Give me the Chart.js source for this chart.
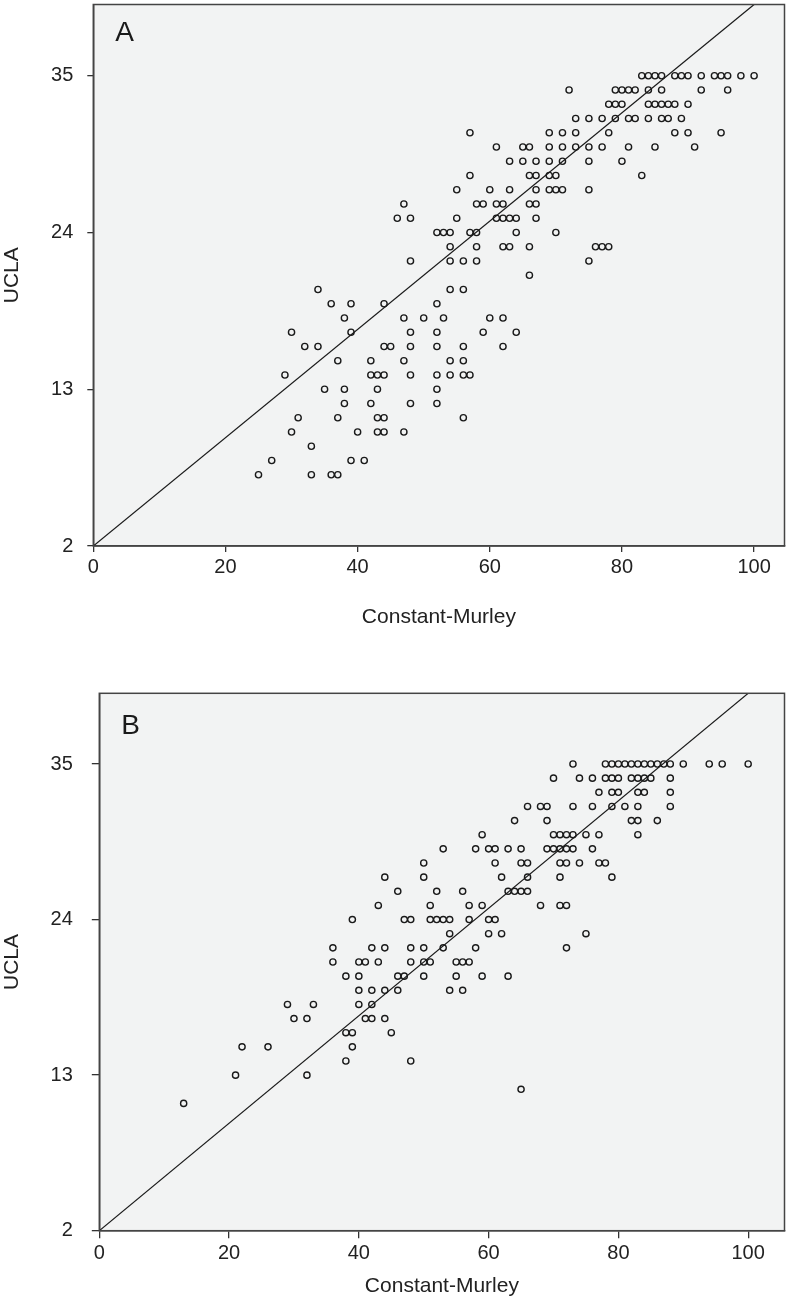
<!DOCTYPE html>
<html>
<head>
<meta charset="utf-8">
<script src="https://cdn.jsdelivr.net/npm/chart.js@4.4.1/dist/chart.umd.min.js"></script>
<style>
  html, body { margin: 0; padding: 0; background: #fff; }
  #wrap { position: relative; width: 789px; height: 1299px; }
  canvas { position: absolute; left: 0; }
  #chartA { top: 0; }
  #chartB { top: 680px; }
</style>
</head>
<body>
<div id="wrap">
  <canvas id="chartA" width="789" height="630"></canvas>
  <canvas id="chartB" width="789" height="619"></canvas>
</div>
<script>
// ========================== DATA ==========================
// UCLA score levels (rows of the scatter), top to bottom
const uclaLevels = [35, 34, 33, 32, 31, 30, 29, 28, 27, 26, 25, 24, 23, 22, 21,
                    20, 19, 18, 17, 16, 15, 14, 13, 12, 11, 10, 9, 8, 7];

// Constant-Murley scores found on each UCLA level, panel A
const cmA = [
  [83, 84, 85, 86, 88, 89, 90, 92, 94, 95, 96, 98, 100],
  [72, 79, 80, 81, 82, 84, 86, 92, 96],
  [78, 79, 80, 84, 85, 86, 87, 88, 90],
  [73, 75, 77, 79, 81, 82, 84, 86, 87, 89],
  [57, 69, 71, 73, 78, 88, 90, 95],
  [61, 65, 66, 69, 71, 73, 75, 77, 81, 85, 91],
  [63, 65, 67, 69, 71, 75, 80],
  [57, 66, 67, 69, 70, 83],
  [55, 60, 63, 67, 69, 70, 71, 75],
  [47, 58, 59, 61, 62, 66, 67],
  [46, 48, 55, 61, 62, 63, 64, 67],
  [52, 53, 54, 57, 58, 64, 70],
  [54, 58, 62, 63, 66, 76, 77, 78],
  [48, 54, 56, 58, 75],
  [66],
  [34, 54, 56],
  [36, 39, 44, 52],
  [38, 47, 50, 53, 60, 62],
  [30, 39, 48, 52, 59, 64],
  [32, 34, 44, 45, 48, 52, 56, 62],
  [37, 42, 47, 54, 56],
  [29, 42, 43, 44, 48, 52, 54, 56, 57],
  [35, 38, 43, 52],
  [38, 42, 48, 52],
  [31, 37, 43, 44, 56],
  [30, 40, 43, 44, 47],
  [33],
  [27, 39, 41],
  [25, 33, 36, 37]
];

// Constant-Murley scores found on each UCLA level, panel B
const cmB = [
  [73, 78, 79, 80, 81, 82, 83, 84, 85, 86, 87, 88, 90, 94, 96, 100],
  [70, 74, 76, 78, 79, 80, 82, 83, 84, 85, 88],
  [77, 79, 80, 83, 84, 88],
  [66, 68, 69, 73, 76, 79, 81, 83, 88],
  [64, 69, 82, 83, 86],
  [59, 70, 71, 72, 73, 75, 77, 83],
  [53, 58, 60, 61, 63, 65, 69, 70, 71, 72, 73, 76],
  [50, 61, 65, 66, 71, 72, 74, 77, 78],
  [44, 50, 62, 66, 71, 79],
  [46, 52, 56, 63, 64, 65, 66],
  [43, 51, 57, 59, 68, 71, 72],
  [39, 47, 48, 51, 52, 53, 54, 57, 60, 61],
  [54, 60, 62, 75],
  [36, 42, 44, 48, 50, 53, 58, 72],
  [36, 40, 41, 43, 48, 50, 51, 55, 56, 57],
  [38, 40, 46, 47, 50, 55, 59, 63],
  [40, 42, 44, 46, 54, 56],
  [29, 33, 40, 42],
  [30, 32, 41, 42, 44],
  [38, 39, 45],
  [22, 26, 39],
  [38, 48],
  [21, 32],
  [65],
  [13],
  [], [], [], []
];

// reference line end points [Constant-Murley, UCLA]
const refLine = [[0, 2], [100, 40]];

// axis ticks
const xTicks = [0, 20, 40, 60, 80, 100];
const yTicks = [2, 13, 24, 35];

// ========================== HELPERS ==========================
function toPoints(rows) {
  const pts = [];
  rows.forEach((xs, i) => {
    xs.forEach(x => pts.push({ x: x, y: uclaLevels[i] }));
  });
  return pts;
}

const FONT = "'Liberation Sans', Arial, Helvetica, sans-serif";

// no label overhang padding, so the plot box sits exactly where we want it
function noPad(s) {
  s.paddingTop = 0;
  s.paddingBottom = 0;
  s.paddingLeft = 0;
  s.paddingRight = 0;
}

// plot background, frame and panel letter
const framePlugin = {
  id: "frame",
  beforeDraw(chart) {
    const a = chart.chartArea;
    const ctx = chart.ctx;
    ctx.save();
    ctx.fillStyle = "#f2f3f3";
    ctx.fillRect(a.left, a.top, a.right - a.left, a.bottom - a.top);
    ctx.restore();
  },
  afterDraw(chart, args, opts) {
    const a = chart.chartArea;
    const ctx = chart.ctx;
    ctx.save();
    ctx.strokeStyle = "#444";
    ctx.lineWidth = 1.5;
    ctx.strokeRect(a.left, a.top, a.right - a.left, a.bottom - a.top);
    ctx.fillStyle = "#1a1a1a";
    ctx.font = "28px " + FONT;
    ctx.textBaseline = "top";
    ctx.fillText(opts.letter, a.left + opts.dx, a.top + opts.dy);
    ctx.restore();
  }
};

function makeChart(id, rows, cfg) {
  return new Chart(document.getElementById(id), {
    data: {
      datasets: [
        {
          type: "scatter",
          data: toPoints(rows),
          pointRadius: 3.1,
          pointHoverRadius: 3.1,
          borderWidth: 1.4,
          borderColor: "#1a1a1a",
          backgroundColor: "rgba(0,0,0,0)"
        },
        {
          type: "line",
          data: refLine.map(p => ({ x: p[0], y: p[1] })),
          borderColor: "#1a1a1a",
          borderWidth: 1.2,
          pointRadius: 0,
          fill: false
        }
      ]
    },
    options: {
      responsive: false,
      animation: false,
      layout: { padding: { top: cfg.padTop, right: 3, left: 0, bottom: 0 } },
      plugins: {
        legend: { display: false },
        tooltip: { enabled: false },
        frame: { letter: cfg.letter, dx: 22, dy: cfg.letterDy }
      },
      scales: {
        x: {
          type: "linear",
          min: 0,
          max: cfg.xMax,
          afterBuildTicks: s => { s.ticks = xTicks.map(v => ({ value: v })); },
          afterFit: s => { s.height = cfg.xAxisH; noPad(s); },
          grid: { drawOnChartArea: false, drawTicks: true, tickLength: cfg.tickLen, color: "#333", lineWidth: 1.3 },
          border: { display: true, color: "#444", width: 1.5 },
          ticks: { color: "#222", padding: 3, font: { family: FONT, size: 20 } },
          title: { display: true, text: "Constant-Murley", color: "#222", padding: 0, font: { family: FONT, size: 21 } }
        },
        y: {
          type: "linear",
          min: 2,
          max: 40,
          afterBuildTicks: s => { s.ticks = yTicks.map(v => ({ value: v })); },
          afterFit: s => { s.width = cfg.yAxisW; noPad(s); },
          grid: { drawOnChartArea: false, drawTicks: true, tickLength: cfg.tickLen, color: "#333", lineWidth: 1.3 },
          border: { display: true, color: "#444", width: 1.5 },
          ticks: { color: "#222", padding: cfg.yPad, font: { family: FONT, size: 20 } },
          title: { display: true, text: "UCLA", color: "#222", padding: 0, font: { family: FONT, size: 21 } }
        }
      }
    },
    plugins: [framePlugin]
  });
}

// ========================== CHARTS ==========================
makeChart("chartA", cmA, {
  letter: "A", letterDy: 15, padTop: 1, xMax: 104.6,
  xAxisH: 84, yAxisW: 93.3, tickLen: 6, yPad: 14
});

makeChart("chartB", cmB, {
  letter: "B", letterDy: 19, padTop: 13.3, xMax: 105.6,
  xAxisH: 68.3, yAxisW: 99.3, tickLen: 7.5, yPad: 19
});
</script>
</body>
</html>
